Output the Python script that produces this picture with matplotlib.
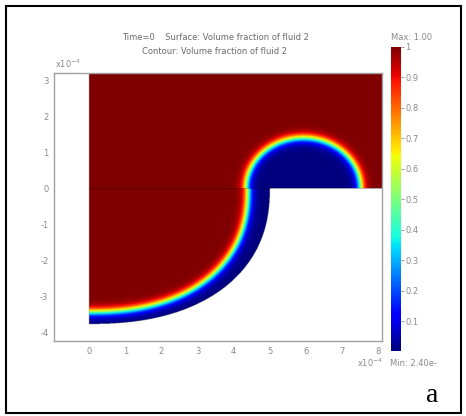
import numpy as np
import matplotlib.pyplot as plt
from matplotlib.patches import Rectangle

# axis ticks (units of 1e-4)
x_ticks = [0, 1, 2, 3, 4, 5, 6, 7, 8]
y_ticks = [-4, -3, -2, -1, 0, 1, 2, 3]
cbar_ticks = [0.1, 0.2, 0.3, 0.4, 0.5, 0.6, 0.7, 0.8, 0.9, 1.0]
cbar_labels = ['0.1', '0.2', '0.3', '0.4', '0.5', '0.6', '0.7', '0.8', '0.9', '1']

# geometry
x_lim = [-0.97, 8.1]
y_lim = [-4.24, 3.2]
outer_ab = [5.0, 3.77]        # curved wall below the step
inner_ab = [4.4, 3.44]        # interface below the step
drop_cab = [5.93, 1.58, 1.40] # droplet above the step (centre x, half width, height)
shape_n = 2.3
eps = 0.14
v_min, v_max = 2.4e-3, 1.0

gray = '#8a8a8a'
plt.rcParams['font.family'] = 'DejaVu Sans'
plt.rcParams['axes.unicode_minus'] = False

xs = np.linspace(x_lim[0], x_lim[1], 1000)
ys = np.linspace(y_lim[0], y_lim[1], 820)
X, Y = np.meshgrid(xs, ys)

# level set of lower interface -> approximate signed distance
f = ((np.abs(X) / inner_ab[0]) ** shape_n + (np.abs(Y) / inner_ab[1]) ** shape_n) ** (1 / shape_n) - 1
gy, gx = np.gradient(f, ys, xs)
d_low = f / np.hypot(gx, gy)

g = np.sqrt(((X - drop_cab[0]) / drop_cab[1]) ** 2 + (Y / drop_cab[2]) ** 2) - 1
gy, gx = np.gradient(g, ys, xs)
d_up = g / np.hypot(gx, gy)

val = np.where(Y < 0, 0.5 * (1 - np.tanh(d_low / eps)), 0.5 * (1 + np.tanh(d_up / eps)))
val = v_min + (v_max - v_min) * val

outer = ((np.abs(X) / outer_ab[0]) ** shape_n + (np.abs(Y) / outer_ab[1]) ** shape_n) ** (1 / shape_n)
mask = (X < 0) | ((Y < 0) & (outer > 1))
Z = np.ma.masked_where(mask, val)

fig = plt.figure(figsize=(4.66, 4.16), dpi=100)
ax = fig.add_axes([54 / 466, 1 - 341 / 416, 328 / 466, 268 / 416])
im = ax.imshow(Z, extent=[xs[0], xs[-1], ys[0], ys[-1]], origin='lower', cmap='jet',
               vmin=v_min, vmax=v_max, interpolation='bilinear', aspect='auto')
ax.plot([0, 5], [0, 0], color='black', lw=0.6, alpha=0.25)
ax.set_xlim(x_lim)
ax.set_ylim(y_lim)
ax.set_xticks(x_ticks)
ax.set_yticks(y_ticks)
ax.tick_params(length=0, labelsize=6, labelcolor=gray, pad=4)
for s in ax.spines.values():
    s.set_color('#a0a0a0')
    s.set_linewidth(1)

fig.text(55 / 466, 1 - 70 / 416, r'x10$^{-4}$', fontsize=6, color=gray, va='bottom')
fig.text(357 / 466, 1 - 363 / 416, r'x10$^{-4}$', fontsize=6, color=gray, va='center')

fig.text(215 / 466, 1 - 38 / 416, 'Time=0    Surface: Volume fraction of fluid 2',
         fontsize=6, color='#6a6a6a', ha='center', va='center')
fig.text(215 / 466, 1 - 51 / 416, 'Contour: Volume fraction of fluid 2',
         fontsize=6, color='#6a6a6a', ha='center', va='center')

cax = fig.add_axes([391 / 466, 1 - 351 / 416, 10 / 466, 304 / 416])
cb = fig.colorbar(im, cax=cax, ticks=cbar_ticks)
cb.set_ticklabels(cbar_labels)
cb.outline.set_visible(False)
cax.tick_params(length=2.5, width=0.6, color=gray, labelsize=6, labelcolor=gray, pad=0.5)

fig.text(391 / 466, 1 - 37 / 416, 'Max: 1.00', fontsize=6, color=gray, va='center')
fig.text(390 / 466, 1 - 363 / 416, 'Min: 2.40e-', fontsize=6, color=gray, va='center')

fig.text(432 / 466, 1 - 395 / 416, 'a', fontsize=20, family='Liberation Serif',
         ha='center', va='center')

fig.patches.append(Rectangle((6 / 466, 3 / 416), 455 / 466, 407 / 416, transform=fig.transFigure,
                             fill=False, edgecolor='black', lw=1.5))

fig.savefig('out.png', dpi=100)
